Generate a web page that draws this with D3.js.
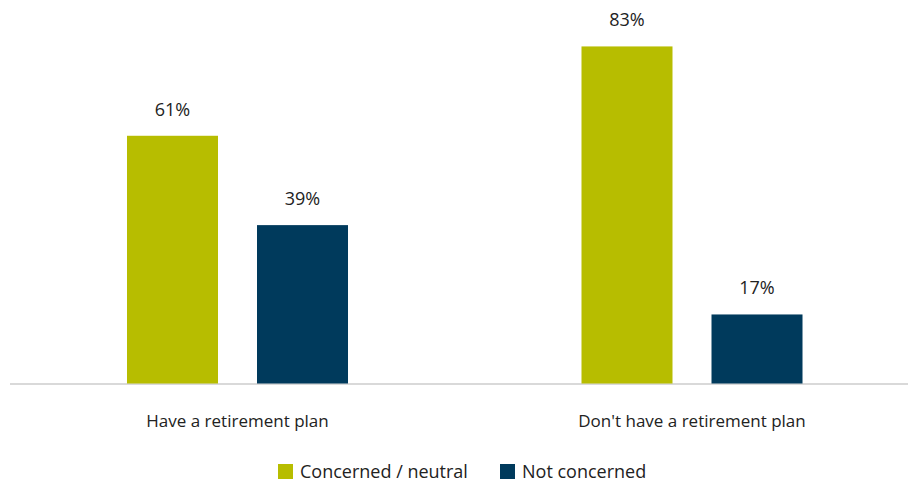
<!DOCTYPE html>
<html><head><meta charset="utf-8">
<script src="https://cdn.jsdelivr.net/npm/d3@7"></script>
<style>
html,body{margin:0;padding:0;background:#fff;}
text{font-family:"Open Sans",sans-serif;fill:#222;}
</style></head>
<body><svg id="c" width="908" height="482"></svg>
<script>
const categories = ["Have a retirement plan", "Don't have a retirement plan"];
const seriesNames = ["Concerned / neutral", "Not concerned"];
const concerned = [61, 83];
const notConcerned = [39, 17];
const colors = ["#b7bd00", "#003a5c"];

const svg = d3.select("#c");
const data = categories.map((c, i) => ({cat: c, vals: [concerned[i], notConcerned[i]]}));

const x0 = d3.scaleBand().domain(categories).range([10.25, 919.25]).paddingInner(0).paddingOuter(0);
const x1 = d3.scaleBand().domain(seriesNames).range([0, x0.bandwidth()]).paddingInner(0.3).paddingOuter(0.898);
const y = d3.scaleLinear().domain([0, 90]).range([383.5, 18]);

// axis line
svg.append("line").attr("x1", 10).attr("x2", 908).attr("y1", y(0) + 0.5).attr("y2", y(0) + 0.5)
  .attr("stroke", "#d9d9d9").attr("stroke-width", 2);

const g = svg.selectAll("g.grp").data(data).join("g").attr("class", "grp")
  .attr("transform", d => `translate(${x0(d.cat)},0)`);

g.selectAll("rect").data(d => d.vals.map((v, j) => ({name: seriesNames[j], v, j})))
  .join("rect")
  .attr("x", d => x1(d.name))
  .attr("width", x1.bandwidth())
  .attr("y", d => y(d.v))
  .attr("height", d => y(0) - y(d.v))
  .attr("fill", d => colors[d.j]);

g.selectAll("text.lbl").data(d => d.vals.map((v, j) => ({name: seriesNames[j], v, j})))
  .join("text").attr("class", "lbl")
  .attr("x", d => x1(d.name) + x1.bandwidth() / 2)
  .attr("y", d => y(d.v) - 20)
  .attr("text-anchor", "middle")
  .attr("font-size", 18)
  .text(d => d.v + "%");

// category axis
const ax = svg.append("g").attr("transform", `translate(0,${y(0)})`)
  .call(d3.axisBottom(x0).tickSize(0).tickPadding(0));
ax.select(".domain").remove();
ax.selectAll(".tick text").attr("font-size", 17).attr("y", 43.5).attr("dy", 0)
  .style("font-family", "Open Sans").attr("fill", "#222");

// legend
const leg = svg.append("g");
const legX = [278, 500];
seriesNames.forEach((n, i) => {
  leg.append("rect").attr("x", legX[i]).attr("y", 464).attr("width", 15).attr("height", 15).attr("fill", colors[i]);
  leg.append("text").attr("x", legX[i] + 22).attr("y", 477.5).attr("font-size", 18).text(n);
});
</script></body></html>
